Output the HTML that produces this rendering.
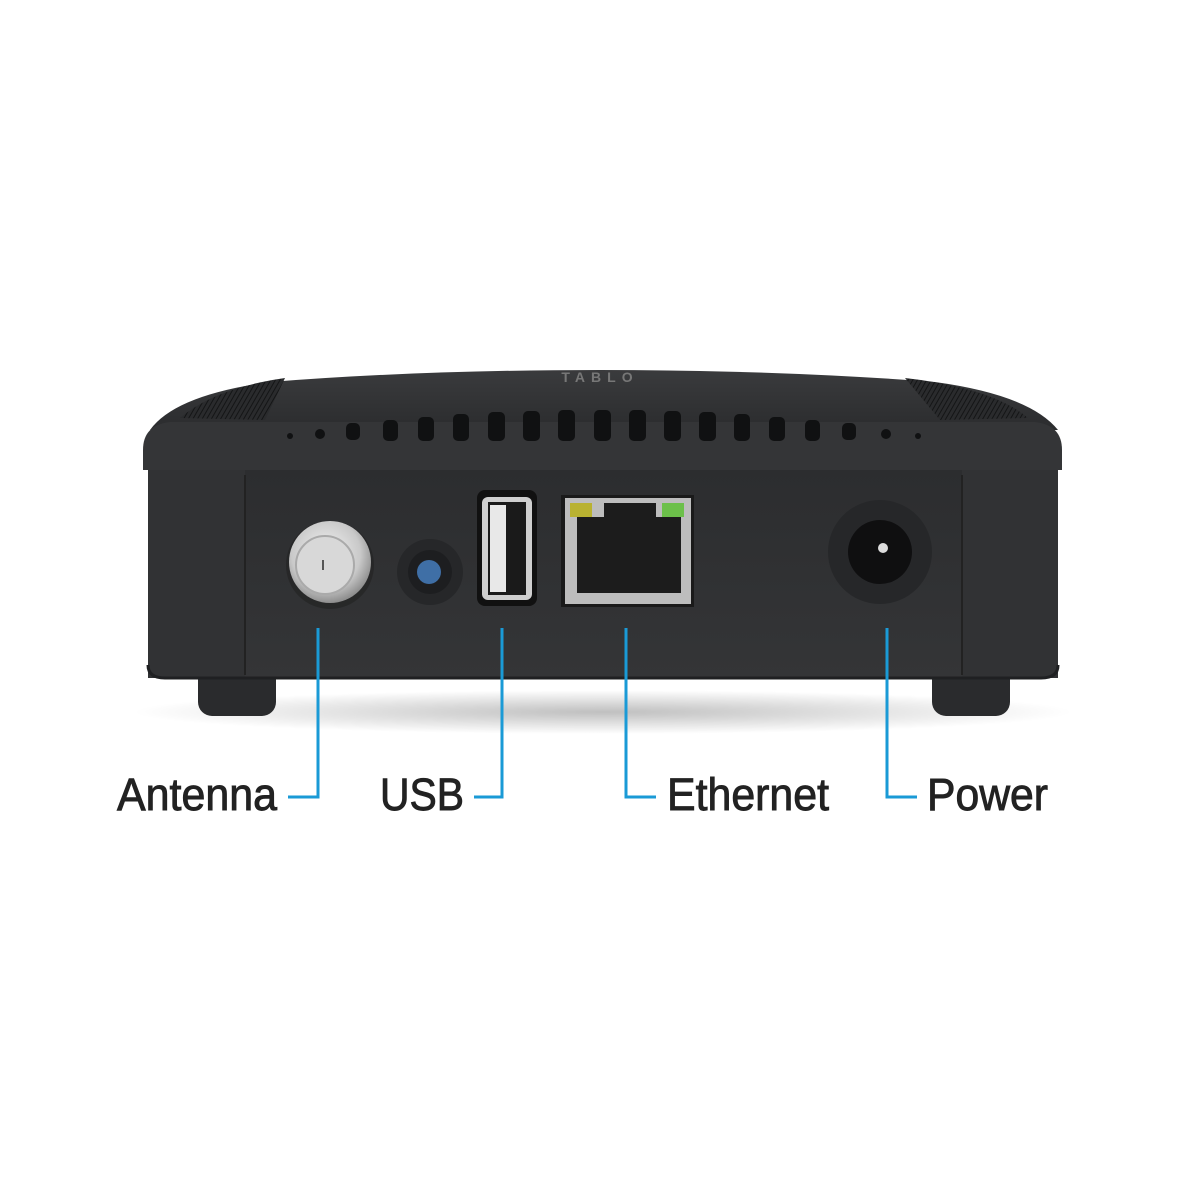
<!DOCTYPE html>
<html><head><meta charset="utf-8"><style>
html,body{margin:0;padding:0;background:#fff;}
svg{display:block}
</style></head><body>
<svg width="1200" height="1200" viewBox="0 0 1200 1200" xmlns="http://www.w3.org/2000/svg">
<defs>
<linearGradient id="top" x1="0" y1="0" x2="0" y2="1">
<stop offset="0" stop-color="#3a3b3d"/><stop offset="1" stop-color="#2b2c2e"/></linearGradient>
<linearGradient id="front" x1="0" y1="0" x2="0" y2="1">
<stop offset="0" stop-color="#2c2d2f"/><stop offset="1" stop-color="#343537"/></linearGradient>
<radialGradient id="silver" cx="0.45" cy="0.4" r="0.6">
<stop offset="0" stop-color="#f4f4f4"/><stop offset="0.7" stop-color="#c9c9c9"/><stop offset="1" stop-color="#8e8e8e"/></radialGradient>
<radialGradient id="shadow" cx="0.5" cy="0.5" r="0.5">
<stop offset="0" stop-color="#000" stop-opacity="0.25"/><stop offset="1" stop-color="#000" stop-opacity="0"/></radialGradient>
<pattern id="hatch" width="4" height="4" patternUnits="userSpaceOnUse" patternTransform="rotate(30)">
<rect width="4" height="4" fill="#2a2b2d"/><line x1="0" y1="0" x2="0" y2="4" stroke="#141516" stroke-width="2"/></pattern>
</defs>
<ellipse cx="603" cy="712" rx="470" ry="22" fill="url(#shadow)"/>
<rect x="198" y="660" width="78" height="56" rx="14" fill="#2a2b2d"/>
<rect x="932" y="660" width="78" height="56" rx="14" fill="#2a2b2d"/>
<!-- top surface -->
<path d="M150 430 Q175 395 270 382 Q420 370 600 370 Q780 370 935 382 Q1030 395 1058 430 Z" fill="url(#top)"/>
<path d="M180 418 Q215 388 285 378 L265 420 Z" fill="url(#hatch)"/>
<path d="M1028 418 Q993 388 905 378 L940 420 Z" fill="url(#hatch)"/>
<text x="600" y="382" font-family="Liberation Sans, sans-serif" font-size="14" fill="#777" text-anchor="middle" font-weight="bold" letter-spacing="6">TABLO</text>
<!-- rim -->
<path d="M143 450 Q143 425 170 422 L1035 422 Q1062 425 1062 450 L1062 470 L143 470 Z" fill="#343537"/>
<g fill="#101112">
<circle cx="290" cy="436" r="3"/><circle cx="320" cy="434" r="5"/>
<rect x="346" y="423" width="14" height="17" rx="5"/>
<rect x="383" y="420" width="15" height="21" rx="5"/>
<rect x="418" y="417" width="16" height="24" rx="5"/>
<rect x="453" y="414" width="16" height="27" rx="5"/>
<rect x="488" y="412" width="17" height="29" rx="5"/>
<rect x="523" y="411" width="17" height="30" rx="5"/>
<rect x="558" y="410" width="17" height="31" rx="5"/>
<rect x="594" y="410" width="17" height="31" rx="5"/>
<rect x="629" y="410" width="17" height="31" rx="5"/>
<rect x="664" y="411" width="17" height="30" rx="5"/>
<rect x="699" y="412" width="17" height="29" rx="5"/>
<rect x="734" y="414" width="16" height="27" rx="5"/>
<rect x="769" y="417" width="16" height="24" rx="5"/>
<rect x="805" y="420" width="15" height="21" rx="5"/>
<rect x="842" y="423" width="14" height="17" rx="5"/>
<circle cx="886" cy="434" r="5"/><circle cx="918" cy="436" r="3"/>
</g>
<rect x="148" y="470" width="910" height="208" fill="url(#front)"/>
<rect x="148" y="470" width="97" height="208" fill="#313234"/>
<rect x="962" y="470" width="96" height="208" fill="#313234"/>
<line x1="245" y1="475" x2="245" y2="675" stroke="#222" stroke-width="2"/>
<line x1="962" y1="475" x2="962" y2="675" stroke="#222" stroke-width="2"/>
<path d="M148 665 Q148 678 165 678 L1041 678 Q1058 678 1058 665" fill="none" stroke="#1f2022" stroke-width="3"/>
<circle cx="330" cy="565" r="44" fill="#222" opacity="0.6"/>
<circle cx="330" cy="562" r="41" fill="url(#silver)"/>
<circle cx="325" cy="565" r="29" fill="#d8d8d8" stroke="#aaa" stroke-width="2"/>
<line x1="323" y1="560" x2="323" y2="570" stroke="#555" stroke-width="2"/>
<circle cx="430" cy="572" r="33" fill="#262729"/>
<circle cx="430" cy="572" r="22" fill="#1d1e20"/>
<circle cx="429" cy="572" r="12" fill="#3f6fa6"/>
<rect x="477" y="490" width="60" height="116" rx="8" fill="#111"/>
<rect x="482" y="497" width="50" height="103" rx="6" fill="#cfcfcf"/>
<rect x="488" y="502" width="38" height="93" fill="#1a1a1a"/>
<rect x="490" y="505" width="16" height="87" fill="#e8e8e8"/>
<rect x="561" y="495" width="133" height="112" fill="#1a1a1a"/>
<rect x="565" y="498" width="126" height="106" fill="#bdbdbd"/>
<path d="M577 517 L604 517 L604 503 L656 503 L656 517 L681 517 L681 593 L577 593 Z" fill="#1c1c1c"/>
<rect x="570" y="503" width="22" height="14" fill="#b9b231"/>
<rect x="662" y="503" width="22" height="14" fill="#6cc04a"/>
<circle cx="880" cy="552" r="52" fill="#262729"/>
<circle cx="880" cy="552" r="32" fill="#0f0f10"/>
<circle cx="883" cy="548" r="5" fill="#ddd"/>
<g stroke="#1a9ad6" stroke-width="3" fill="none">
<polyline points="318,628 318,797 288,797"/>
<polyline points="502,628 502,797 474,797"/>
<polyline points="626,628 626,797 656,797"/>
<polyline points="887,628 887,797 917,797"/>
</g>
<g font-family="Liberation Sans, sans-serif" font-size="45" fill="#222" stroke="#222" stroke-width="0.9">
<text x="117" y="810" textLength="160" lengthAdjust="spacingAndGlyphs">Antenna</text>
<text x="380" y="810" textLength="84" lengthAdjust="spacingAndGlyphs">USB</text>
<text x="667" y="810" textLength="162" lengthAdjust="spacingAndGlyphs">Ethernet</text>
<text x="927" y="810" textLength="121" lengthAdjust="spacingAndGlyphs">Power</text>
</g>
</svg>
</body></html>
